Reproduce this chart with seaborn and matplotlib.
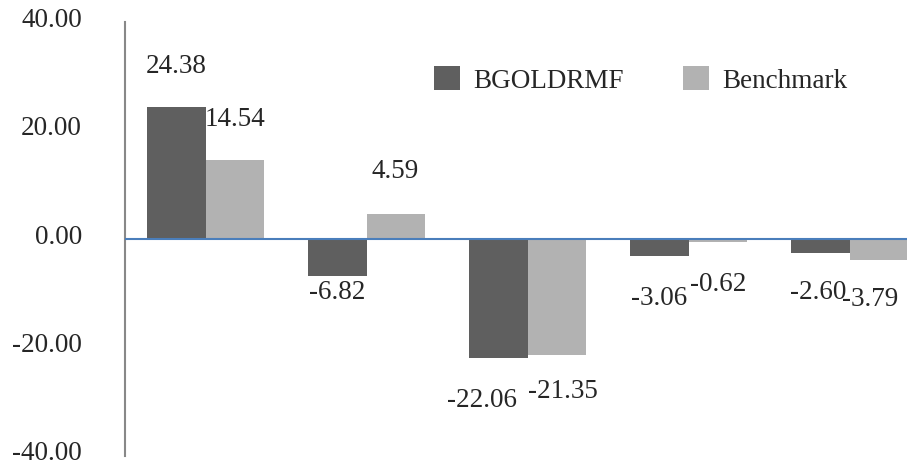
import matplotlib
matplotlib.use('Agg')
import matplotlib.pyplot as plt
import matplotlib.transforms as mtransforms
import seaborn as sns
import pandas as pd

# Chart data
periods = ['P1', 'P2', 'P3', 'P4', 'P5']
series = ['BGOLDRMF', 'Benchmark']
bgoldrmf = [24.38, -6.82, -22.06, -3.06, -2.60]
benchmark = [14.54, 4.59, -21.35, -0.62, -3.79]
y_ticks = [-40, -20, 0, 20, 40]

# label placement tweaks (data units above/below bar end, pixel nudges in x)
label_dy = {'BGOLDRMF': [7.5, -3.0, -7.8, -8.0, -7.2],
            'Benchmark': [7.6, 7.8, -6.9, -7.7, -7.3]}
label_dx = {'BGOLDRMF': [0, 0, -16, 0, -2],
            'Benchmark': [0, -1, 6, 0, -9]}

colors = {'BGOLDRMF': '#5F5F5F', 'Benchmark': '#B2B2B2'}

df = pd.DataFrame({
    'period': periods * 2,
    'series': ['BGOLDRMF'] * len(periods) + ['Benchmark'] * len(periods),
    'value': bgoldrmf + benchmark,
})

sns.set_style('white')
plt.rcParams['font.family'] = ['Liberation Serif', 'DejaVu Serif']
fs = 19.5

fig = plt.figure(figsize=(9.07, 4.68), dpi=100)
ax = fig.add_axes([125 / 907, 1 - 455.5 / 468, 1 - 125 / 907, (455.5 - 22.5) / 468])

sns.barplot(data=df, x='period', y='value', hue='series', hue_order=series,
            order=periods, palette=colors, width=0.727, linewidth=0,
            saturation=1, ax=ax, legend=True)

ax.set_xlim(-0.5, -0.5 + 782 / 161)
ax.set_ylim(-40, 40)
ax.set_yticks(y_ticks)
ax.set_yticklabels([f'{t:.2f}' for t in y_ticks], fontsize=fs)
ax.tick_params(axis='y', length=0, pad=31)
ax.set_xticks([])
ax.set_xlabel('')
ax.set_ylabel('')

# tick labels sit a little above their gridline in the original
shift = mtransforms.ScaledTranslation(0, 5 / 100, fig.dpi_scale_trans)
for lbl in ax.get_yticklabels():
    lbl.set_transform(lbl.get_transform() + shift)

for side in ['top', 'right', 'bottom']:
    ax.spines[side].set_visible(False)
ax.spines['left'].set_color('#888888')
ax.spines['left'].set_linewidth(1.5)

ax.axhline(0, color='#4A7EBB', lw=1.5, zorder=5)

# data labels
for container, name in zip(ax.containers, series):
    vals = bgoldrmf if name == 'BGOLDRMF' else benchmark
    for i, bar in enumerate(container):
        v = vals[i]
        xc = bar.get_x() + bar.get_width() / 2
        ax.annotate(f'{v:.2f}', xy=(xc, v + label_dy[name][i]),
                    xytext=(label_dx[name][i] * 72 / 100, 0), textcoords='offset points',
                    ha='center', va='center', fontsize=fs, annotation_clip=False)

leg = ax.legend(loc='center left', bbox_to_anchor=(434 / 907, 1 - 80 / 468),
                bbox_transform=fig.transFigure, ncol=2, frameon=False,
                fontsize=fs, handlelength=0.96, handleheight=0.96,
                handletextpad=0.48, columnspacing=2.2, borderpad=0, borderaxespad=0)
for h in leg.legend_handles:
    h.set_linewidth(0)

fig.savefig('out.png', dpi=100)
